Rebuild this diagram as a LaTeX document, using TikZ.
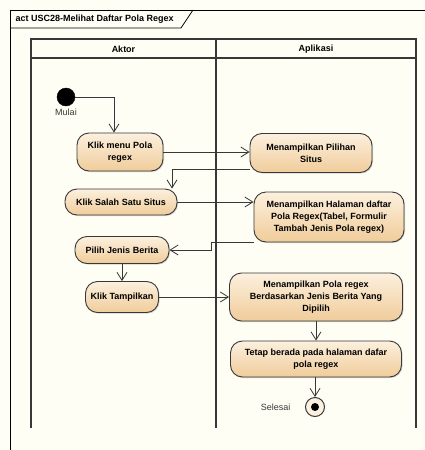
\documentclass[tikz,border=0pt]{standalone}
\usepackage{fontspec}
\setmainfont{Liberation Sans}
\usetikzlibrary{ arrows.meta, % For the open UML arrow heads
                 shadows,     % For the small shadow under each action
                 positioning,
               }
\definecolor{kertas}{HTML}{FFFEF5}
\definecolor{aksiatas}{HTML}{FCF0DE}
\definecolor{aksibawah}{HTML}{F0CC9A}
\definecolor{garis}{HTML}{383838}

\tikzstyle{aksi} = [rectangle, rounded corners=12pt, draw=garis, line width=0.9pt,
                    top color=aksiatas, bottom color=aksibawah, align=center,
                    font=\fontsize{9}{12}\selectfont\bfseries, inner sep=2pt,
                    drop shadow={shadow xshift=1pt, shadow yshift=-1pt, opacity=.35}]
\tikzstyle{alur} = [-{Straight Barb[length=8pt,width=10pt]}, draw=garis, line width=0.8pt]
\tikzstyle{awal} = [circle, fill=black, draw=black, minimum size=18pt, inner sep=0pt]
\tikzstyle{akhir} = [circle, draw=garis, line width=1pt, fill=aksiatas, minimum size=19pt,
                     inner sep=0pt,
                     path picture={\fill[black] (path picture bounding box.center) circle (4pt);}]
\tikzstyle{lajur} = [draw=garis, line width=1.2pt]

\begin{document}
\begin{tikzpicture}[x=1pt, y=-1pt, font=\fontsize{9}{12}\selectfont]
  \fill[kertas] (0,0) rectangle (425,450);
  \useasboundingbox (0,0) rectangle (425,450);

  % diagram frame and its name tab
  \draw[black, line width=0.8pt] (10,450) -- (10,10) -- (425,10);
  \draw[black, line width=0.8pt] (10,28) -- (181,28) -- (193,10);
  \node (judul) [anchor=west, font=\fontsize{9}{11}\selectfont\bfseries] at (12,19)
    {act USC28-Melihat Daftar Pola Regex};

  % swimlanes
  \draw[lajur] (31,428) -- (31,39) -- (416,39) -- (416,428);
  \draw[lajur] (31,58) -- (416,58);
  \draw[lajur] (216,39) -- (216,428);
  \node (aktor) [font=\fontsize{9}{11}\selectfont\bfseries] at (123.5,49) {Aktor};
  \node (aplikasi) [font=\fontsize{9}{11}\selectfont\bfseries] at (316,49) {Aplikasi};

  % actions
  \node (mulai) [awal, label={[label distance=-1pt, text=garis]below:Mulai}] at (66,97) {};
  \node (n1) [aksi, minimum width=86pt, minimum height=38pt] at (120,152) {Klik menu Pola\\regex};
  \node (n2) [aksi, minimum width=122pt, minimum height=39pt] at (311,153) {Menampilkan Pilihan\\Situs};
  \node (n3) [aksi, minimum width=112pt, minimum height=26pt] at (121,202) {Klik Salah Satu Situs};
  \node (n4) [aksi, minimum width=150pt, minimum height=50pt] at (329,217)
    {Menampilkan Halaman daftar\\Pola Regex(Tabel, Formulir\\Tambah Jenis Pola regex)};
  \node (n5) [aksi, minimum width=94pt, minimum height=27pt] at (122,250) {Pilih Jenis Berita};
  \node (n6) [aksi, minimum width=73pt, minimum height=31pt] at (122,297) {Klik Tampilkan};
  \node (n7) [aksi, minimum width=173pt, minimum height=48pt] at (316,297)
    {Menampilkan Pola regex\\Berdasarkan Jenis Berita Yang\\Dipilih};
  \node (n8) [aksi, minimum width=171pt, minimum height=36pt] at (316,359)
    {Tetap berada pada halaman dafar\\pola regex};
  \node (selesai) [akhir, label={[label distance=11pt, text=garis]left:Selesai}] at (315,407) {};

  % control flow
  \draw[alur] (mulai.east) -| ([xshift=-6pt]n1.north);
  \draw[alur] (n1.east) -- (n1.east -| n2.west);
  \draw[alur] ([yshift=-16pt]n2.west) -| ([xshift=51pt]n3.north);
  \draw[alur] (n3.east) -- (n3.east -| n4.west);
  \draw[alur] (n4.south west) -- ++(-42,0) |- (n5.east);
  \draw[alur] (n5) -- (n6);
  \draw[alur] (n6) -- (n7);
  \draw[alur] (n7) -- (n8);
  \draw[alur] (n8.south -| selesai.north) -- (selesai);
\end{tikzpicture}
\end{document}
